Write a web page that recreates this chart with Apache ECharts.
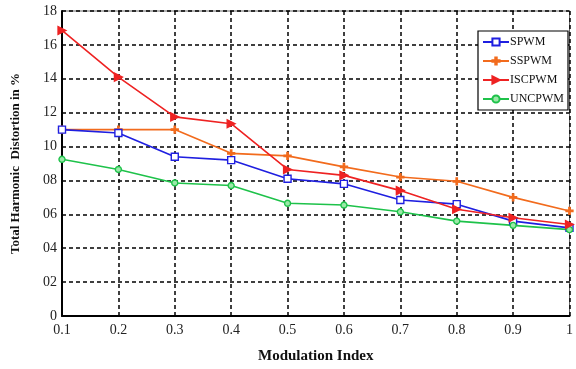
<!DOCTYPE html>
<html>
<head>
<meta charset="utf-8">
<script src="https://cdn.jsdelivr.net/npm/echarts@6/dist/echarts.min.js"></script>
<style>
  html, body { margin: 0; padding: 0; background: #fff; }
  #chart { width: 576px; height: 369px; }
</style>
</head>
<body>
<div id="chart"></div>
<script>
// values
const modIndex = ['0.1', '0.2', '0.3', '0.4', '0.5', '0.6', '0.7', '0.8', '0.9', '1'];
const spwm   = [11.0, 10.8, 9.4, 9.2, 8.1, 7.8, 6.85, 6.6, 5.6, 5.2];
const sspwm  = [11.0, 11.0, 11.0, 9.6, 9.45, 8.8, 8.2, 7.95, 7.0, 6.2];
const iscpwm = [16.85, 14.1, 11.75, 11.35, 8.65, 8.3, 7.4, 6.3, 5.8, 5.4];
const uncpwm = [9.25, 8.65, 7.85, 7.7, 6.65, 6.55, 6.15, 5.6, 5.35, 5.1];

const serif = 'Liberation Serif';
const plusPath = 'path://M4,0L6,0L6,4L10,4L10,6L6,6L6,10L4,10L4,6L0,6L0,4L4,4Z';

const chart = echarts.init(document.getElementById('chart'));

const mkSeries = (name, data, color, symbol, size, extra) => Object.assign({
  name: name,
  type: 'line',
  data: data,
  symbol: symbol,
  symbolSize: size,
  lineStyle: { color: color, width: 1.6 },
  itemStyle: { color: color, borderColor: color, borderWidth: 1.3 },
  animation: false
}, extra || {});

chart.setOption({
  backgroundColor: '#fff',
  grid: {
    left: 62, right: -1, top: 11, bottom: 53,
    show: true, borderColor: '#666', borderWidth: 1
  },
  legend: {
    orient: 'vertical',
    left: 478, top: 31,
    padding: [5, 4, 5, 4],
    itemGap: 7,
    itemWidth: 26,
    itemHeight: 9,
    backgroundColor: '#fff',
    borderColor: '#000',
    borderWidth: 1.2,
    textStyle: { fontFamily: serif, fontSize: 12, color: '#111', padding: [0, 0, 0, -4] },
    data: ['SPWM', 'SSPWM', 'ISCPWM', 'UNCPWM']
  },
  xAxis: {
    type: 'category',
    data: modIndex,
    boundaryGap: false,
    name: 'Modulation Index',
    nameLocation: 'middle',
    nameGap: 33,
    nameTextStyle: { fontFamily: serif, fontWeight: 'bold', fontSize: 15, color: '#111' },
    axisLine: { lineStyle: { color: '#000', width: 2 } },
    axisTick: { show: false },
    axisLabel: { fontFamily: serif, fontSize: 14, color: '#222', margin: 7 },
    splitLine: { show: true, lineStyle: { color: '#000', width: 1.5, type: [4, 3] } }
  },
  yAxis: {
    type: 'value',
    min: 0, max: 18, interval: 2,
    name: 'Total Harmonic  Distortion in %',
    nameLocation: 'middle',
    nameGap: 40,
    nameTextStyle: { fontFamily: serif, fontWeight: 'bold', fontSize: 13, color: '#111' },
    axisLine: { show: true, lineStyle: { color: '#000', width: 2 } },
    axisTick: { show: false },
    axisLabel: {
      fontFamily: serif, fontSize: 14, color: '#222', margin: 5,
      formatter: v => (v === 0 ? '0' : (v < 10 ? '0' + v : String(v)))
    },
    splitLine: { show: true, lineStyle: { color: '#000', width: 1.5, type: [4, 3] } }
  },
  series: [
    mkSeries('SSPWM', sspwm, '#f26b1d', plusPath, 7),
    mkSeries('SPWM', spwm, '#1f1fe0', 'rect', 7, { itemStyle: { color: '#fff', borderColor: '#1f1fe0', borderWidth: 1.4 } }),
    mkSeries('UNCPWM', uncpwm, '#1ec24a', 'circle', 6, { itemStyle: { color: '#9be8a8', borderColor: '#1ec24a', borderWidth: 1.4 } }),
    mkSeries('ISCPWM', iscpwm, '#ee2222', 'triangle', 8, { symbolRotate: -90 })
  ]
});
</script>
</body>
</html>
